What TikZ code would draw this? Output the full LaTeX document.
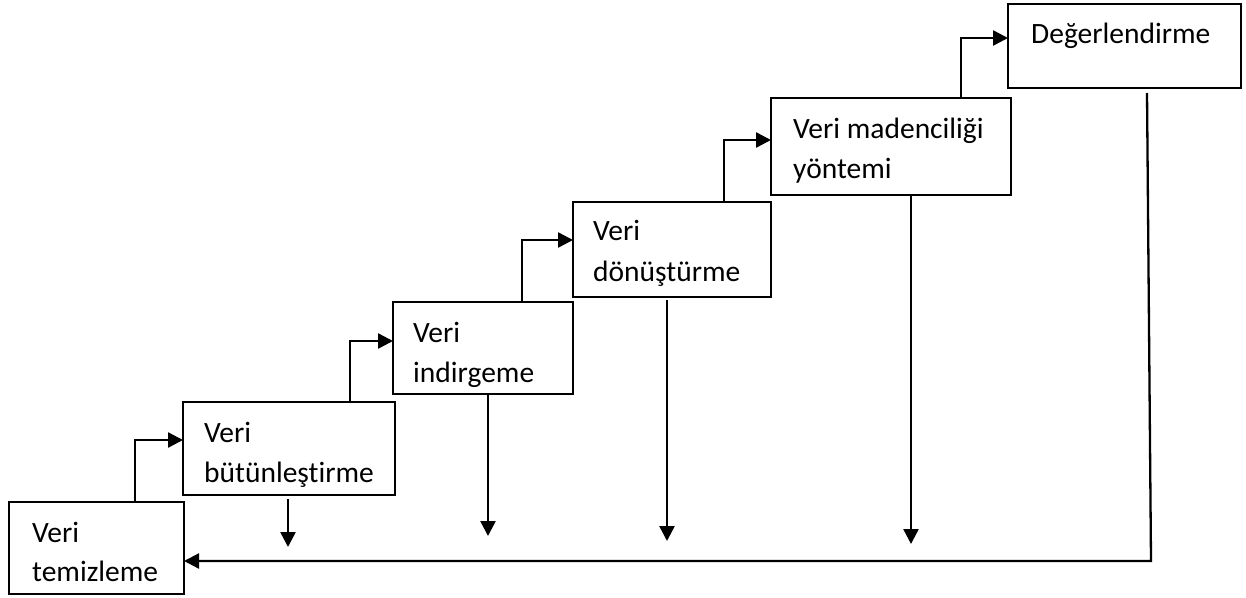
\documentclass[tikz,border=0pt]{standalone}
\usepackage{fontspec}
\setmainfont{Carlito}[Ligatures=NoCommon]
\usetikzlibrary{arrows.meta}
\begin{document}
\begin{tikzpicture}[x=1pt,y=-1pt,
  stage/.style={draw,line width=2.6pt,inner sep=0pt,outer sep=0pt,anchor=north west},
  lbl/.style={anchor=base west,inner sep=0pt,font=\fontsize{29.5}{40}\selectfont},
  flow/.style={line width=2.5pt,-{Triangle[length=15pt,width=15pt]}},
  back/.style={line width=2.3pt,-{Triangle[length=15pt,width=15pt]}},
]
\useasboundingbox (0,0) rectangle (1246,597);

% process stages, rising left to right
\node[stage,minimum width=175pt,minimum height=92pt] (b1) at (9,502) {};
\node[stage,minimum width=212pt,minimum height=93pt] (b2) at (183,402) {};
\node[stage,minimum width=180pt,minimum height=92pt] (b3) at (393,302) {};
\node[stage,minimum width=198pt,minimum height=95pt] (b4) at (573,202) {};
\node[stage,minimum width=240pt,minimum height=97pt] (b5) at (771,98) {};
\node[stage,minimum width=233pt,minimum height=84pt] (b6) at (1008,4) {};

% stage labels
\node[lbl] (t1a) at (32,542) {Veri};
\node[lbl] (t1b) at (32,581) {temizleme};
\node[lbl] (t2a) at (204,442) {Veri};
\node[lbl] (t2b) at (204,482) {bütünleştirme};
\node[lbl] (t3a) at (413,342) {Veri};
\begin{scope}
  \clip (393,302) rectangle (573,388);
  \node[lbl] (t3b) at (413,382) {indirgeme};
\end{scope}
\node[lbl] (t4a) at (593,240) {Veri};
\node[lbl] (t4b) at (593,281) {dönüştürme};
\node[lbl] (t5a) at (793,138) {Veri madenciliği};
\node[lbl] (t5b) at (793,178) {yöntemi};
\node[lbl] (t6a) at (1031,43) {Değerlendirme};

% step-up connectors
\draw[flow] ([xshift=81pt]b1.north west) -- ++(45,0) |- ([yshift=8.5pt]b2.west);
\draw[flow] ([xshift=120pt]b2.north west) -- ++(47,0) |- ([yshift=7pt]b3.west);
\draw[flow] ([xshift=84pt]b3.north west) -- ++(45,0) |- ([yshift=9.5pt]b4.west);
\draw[flow] ([xshift=105pt]b4.north west) -- ++(46,0) |- ([yshift=6.5pt]b5.west);
\draw[flow] ([xshift=146pt]b5.north west) -- ++(44,0) |- ([yshift=8pt]b6.west);

% drop arrows below the stages
\draw[flow] ([xshift=-1pt,yshift=-4pt]b2.south) -- ++(0,48);
\draw[flow] ([xshift=5pt,yshift=-1pt]b3.south) -- ++(0,141);
\draw[flow] ([xshift=-5pt,yshift=-3pt]b4.south) -- ++(0,241);
\draw[flow] ([xshift=20pt,yshift=-1pt]b5.south) -- ++(0,348);

% feedback line back to the first stage
\coordinate (turn) at (1151,561);
\draw[back] ([xshift=22.5pt,yshift=-5pt]b6.south) -- (turn) -- ([yshift=-13pt]b1.east);
\end{tikzpicture}
\end{document}
